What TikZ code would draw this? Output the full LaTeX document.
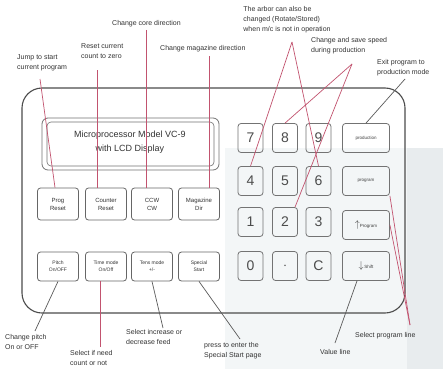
\documentclass[tikz,border=0pt]{standalone}
\usepackage{fontspec}
\setmainfont{Liberation Sans}
\definecolor{lred}{HTML}{C2536F}
\definecolor{ldark}{HTML}{5A5A5A}
\definecolor{tintA}{HTML}{F3F6F7}
\definecolor{tintB}{HTML}{E8ECEE}
\begin{document}
\begin{tikzpicture}[x=1pt,y=-1pt,
  panel/.style={draw=black!70, line width=1.1pt, rounded corners=20pt},
  key/.style={draw=black!55, line width=0.8pt, rounded corners=3pt, minimum width=25pt, minimum height=29pt, inner sep=0pt, font=\fontsize{14}{14}\selectfont, text=black!70},
  sidekey/.style={draw=black!55, line width=0.8pt, rounded corners=3pt, minimum width=47pt, minimum height=29pt, inner sep=0pt, font=\fontsize{4.5}{5}\selectfont, text=black!75},
  btn/.style={draw=black!60, line width=0.8pt, rounded corners=3pt, minimum width=41pt, inner sep=0pt, align=center, text=black!80},
  note/.style={align=left, inner sep=0pt, font=\fontsize{7}{10}\selectfont, text=black!80},
  redl/.style={draw=lred, line width=0.7pt},
  darkl/.style={draw=ldark, line width=0.7pt}
]
\useasboundingbox (0,0) rectangle (443,369);
\fill[white] (0,0) rectangle (443,369);
\fill[tintA] (225,148) rectangle (443,369);
\fill[tintB] (407,148) rectangle (443,369);

% panel
\draw[panel] (22,88) rectangle (405,313);

% LCD display
\draw[draw=black!55, line width=0.8pt, rounded corners=6pt] (42,118) rectangle (219,170);
\draw[draw=black!55, line width=0.6pt, rounded corners=4pt] (47,122) rectangle (214,166);
\node[align=center, inner sep=0pt, font=\fontsize{9}{14}\selectfont, text=black!80] (lcd) at (130,142) {Microprocessor Model VC-9\\with LCD Display};

% row 1 buttons
\begin{scope}[every node/.append style={btn, minimum height=32pt, font=\fontsize{6}{8}\selectfont}]
\node (prog) at (58,204) {Prog\\Reset};
\node (counter) at (106,204) {Counter\\Reset};
\node (ccw) at (152,204) {CCW\\CW};
\node (mag) at (199,204) {Magazine\\Dir};
\end{scope}
% row 2 buttons
\begin{scope}[every node/.append style={btn, minimum height=29pt, font=\fontsize{5}{7}\selectfont}]
\node (pitch) at (58,266.5) {Pitch\\On/OFF};
\node (time) at (106,266.5) {Time mode\\On/Off};
\node (tens) at (152,266.5) {Tens mode\\+/-};
\node (special) at (199,266.5) {Special\\Start};
\end{scope}

% keypad
\node[key] (k7) at (250.5,138) {7};
\node[key] (k8) at (285,138) {8};
\node[key] (k9) at (318.5,138) {9};
\node[key] (k4) at (250.5,181) {4};
\node[key] (k5) at (285,181) {5};
\node[key] (k6) at (318.5,181) {6};
\node[key] (k1) at (250.5,222) {1};
\node[key] (k2) at (285,222) {2};
\node[key] (k3) at (318.5,222) {3};
\node[key] (k0) at (250.5,266) {0};
\node[key] (kdot) at (285,266) {$\cdot$};
\node[key] (kc) at (318.5,266) {C};

% right column
\node[sidekey] (production) at (366,138) {production};
\node[sidekey] (program) at (366,181) {program};
\node[sidekey] (up) at (366,225) {{\fontsize{10}{10}\selectfont$\uparrow$}Program};
\node[sidekey] (down) at (366,266) {{\fontsize{10}{10}\selectfont$\downarrow$}\,Shift};

% annotation texts
\node[note, anchor=west] (tjump) at (17,63) {Jump to start\\current program};
\node[note, anchor=west] (treset) at (81,51) {Reset current\\count to zero};
\node[note, anchor=west] (tcore) at (112,24) {Change core direction};
\node[note, anchor=west] (tmag) at (160,49) {Change magazine direction};
\node[note, anchor=center] (tarbor) at (287,20) {The arbor can also be\\changed (Rotate/Stored)\\when m/c is not in operation};
\node[note, anchor=west] (tspeed) at (311,46) {Change and save speed\\during production};
\node[note, anchor=west] (texit) at (377,68) {Exit program to\\production mode};
\node[note, anchor=west] (tpitch) at (5,342) {Change pitch\\On or OFF};
\node[note, anchor=west] (tcount) at (70,358) {Select if need\\count or not};
\node[note, anchor=west] (tfeed) at (126,337) {Select increase or\\decrease feed};
\node[note, anchor=west] (tspecial) at (204,351) {press to enter the\\Special Start page};
\node[note, anchor=west] (tvalue) at (320,352) {Value line};
\node[note, anchor=west] (tline) at (355,336) {Select program line};

% connector ends
\coordinate (cjump) at (40,79);
\coordinate (creset) at (97,70);
\coordinate (ccore) at (146,30);
\coordinate (cmag) at (209,56);
\coordinate (carbor) at (292,42);
\coordinate (cspeed) at (352,64);
\coordinate (cexit) at (405,79);
\coordinate (cline) at (410,325);
\coordinate (cvalue) at (335,343);
\coordinate (cpitch) at (35,331);
\coordinate (ccount) at (100,347);
\coordinate (cfeed) at (163,328);
\coordinate (cspecial) at (240,339);

% connectors
\draw[redl] (cjump) -- ([xshift=-3pt]prog.north);
\draw[redl] (creset) -- (creset |- counter.north);
\draw[redl] (ccore) -- (ccore |- ccw.north);
\draw[redl] (cmag) -- (cmag |- mag.north);
\draw[redl] (carbor) -- (k4.north);
\draw[redl] (carbor) -- (k6.north);
\draw[redl] (cspeed) -- (k8.north);
\draw[redl] (cspeed) -- ([xshift=10pt]k2.north);
\draw[darkl] (cexit) -- (production.north);
\draw[redl] (program.south east) -- (cline);
\draw[redl] (up.east) -- (cline);
\draw[darkl] ([xshift=-9pt]down.south) -- (cvalue);
\draw[darkl] (pitch.south) -- (cpitch);
\draw[redl] ([xshift=-6pt]time.south) -- (ccount);
\draw[darkl] (tens.south) -- (cfeed);
\draw[darkl] (special.south) -- (cspecial);
\end{tikzpicture}
\end{document}
